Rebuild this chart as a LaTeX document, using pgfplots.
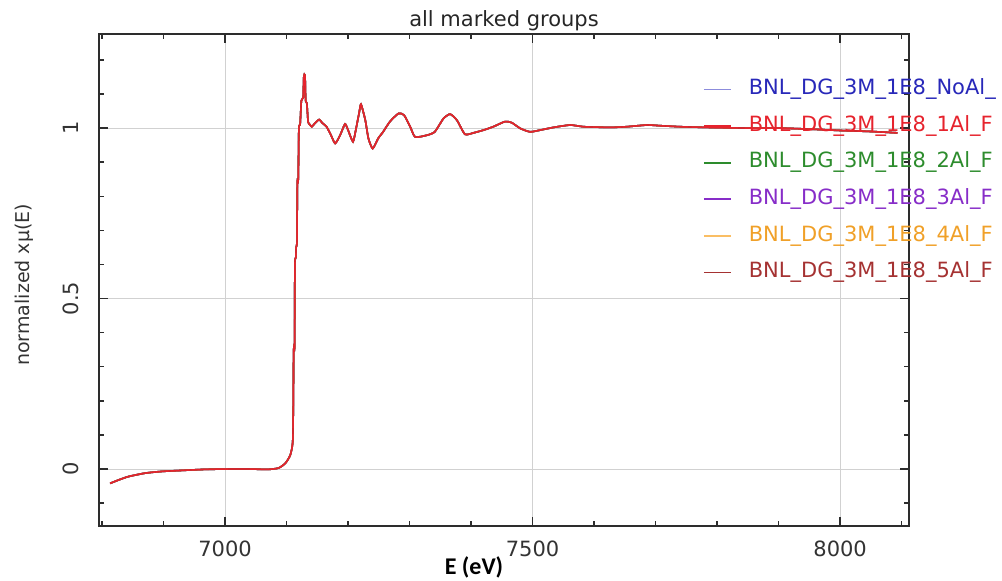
\documentclass[border=0pt]{standalone}
\usepackage{fontspec}
\setmainfont{DejaVu Sans}
\newfontfamily\carlito{Carlito}
\usepackage{pgfplots}
\usepackage{pgfplotstable}
\pgfplotsset{compat=1.18}

\definecolor{cNoL}{RGB}{140,140,220}
\definecolor{cNoT}{RGB}{40,40,185}
\definecolor{cOne}{RGB}{230,35,45}
\definecolor{cTwo}{RGB}{45,140,45}
\definecolor{cThr}{RGB}{135,45,200}
\definecolor{cFouL}{RGB}{250,190,100}
\definecolor{cFouT}{RGB}{240,160,40}
\definecolor{cFiv}{RGB}{165,50,50}
\definecolor{axgray}{RGB}{45,45,45}

\pgfplotstableread{
E mu
6813 -0.042
6827 -0.032
6843 -0.022
6870 -0.012
6897 -0.007
6930 -0.004
6967 -0.001
7005 0.000
7040 0.000
7070 -0.001
7087 0.003
7098 0.017
7106 0.041
7110 0.080
7111 0.200
7111.5 0.350
7113 0.360
7113.5 0.600
7115 0.620
7115.5 0.650
7117 0.670
7117.5 0.840
7119 0.850
7120 1.000
7122 1.010
7124 1.080
7127 1.090
7128 1.150
7130 1.155
7131 1.080
7133 1.073
7135 1.018
7138 1.010
7141 1.004
7146 1.014
7153 1.025
7158 1.015
7165 1.004
7172 0.980
7179 0.955
7187 0.979
7195 1.012
7200 0.994
7208 0.960
7213 0.999
7218 1.045
7221 1.070
7228 1.023
7233 0.970
7240 0.940
7249 0.970
7257 0.989
7268 1.019
7282 1.043
7291 1.038
7301 1.004
7309 0.974
7328 0.979
7341 0.989
7355 1.028
7366 1.041
7377 1.023
7390 0.982
7404 0.986
7420 0.994
7436 1.004
7455 1.019
7466 1.016
7480 0.999
7496 0.989
7512 0.994
7534 1.002
7561 1.009
7583 1.004
7626 1.002
7653 1.004
7686 1.009
7707 1.007
7740 1.004
7783 1.002
7850 1.000
7900 1.000
7950 0.997
8000 0.993
8050 0.990
8093 0.986
}\spectrum

\begin{document}
\begin{tikzpicture}
\begin{axis}[
  at={(49.5pt,27.5pt)}, anchor=south west,
  scale only axis, width=405pt, height=246pt,
  xmin=6795, xmax=8112, ymin=-0.167, ymax=1.276,
  xtick={7000,7500,8000}, ytick={0,0.5,1},
  minor xtick={6800,6900,7100,7200,7300,7400,7600,7700,7800,7900,8100},
  minor ytick={-0.1,0.1,0.2,0.3,0.4,0.6,0.7,0.8,0.9,1.1,1.2},
  tick align=inside, tick pos=both,
  major tick length=4.5pt, minor tick length=2.5pt,
  every tick/.style={axgray, line width=0.7pt},
  axis line style={axgray, line width=1pt},
  grid=major, major grid style={black!18, line width=0.5pt},
  scaled ticks=false,
  /pgf/number format/1000 sep={},
  /pgf/number format/assume math mode=true,
  tick label style={font=\fontsize{10.5}{12}\selectfont, text=black!80},
  xticklabel style={yshift=-4pt},
  yticklabel style={xshift=-6.5pt, rotate=90, anchor=south},
  title={all marked groups},
  title style={at={(axis description cs:0.5,1)}, anchor=base, yshift=-2.5pt, font=\fontsize{10.5}{12}\selectfont, text=black!85},
  xlabel={\carlito\bfseries E (eV)},
  xlabel style={at={(axis description cs:0.463,0)}, anchor=base, yshift=-24.5pt, font=\fontsize{12}{14}\selectfont, text=black},
  ylabel={normalized xμ(E)},
  ylabel style={at={(axis description cs:-0.0926,0.49)}, anchor=center, font=\fontsize{9.5}{11}\selectfont, text=black!80},
  legend style={at={(axis description cs:0.7457,0.908)}, anchor=north west, draw=none, fill=none,
    inner sep=0pt, outer sep=0pt, row sep=8.1pt,
    font=\fontsize{10.5}{12}\selectfont,
    nodes={inner sep=0pt, text height=7.7pt, text depth=2.5pt},
    /tikz/every odd column/.append style={column sep=8.5pt}},
  legend cell align=left,
  legend image code/.code={\draw[#1, line width=0.9pt] (0pt,0pt) -- (13.5pt,0pt);},
]
\addlegendimage{cNoL}
\addlegendentry{\textcolor{cNoT}{BNL\_DG\_3M\_1E8\_NoAl\_}}
\addlegendimage{cOne}
\addlegendentry{\textcolor{cOne}{BNL\_DG\_3M\_1E8\_1Al\_F}}
\addlegendimage{cTwo}
\addlegendentry{\textcolor{cTwo}{BNL\_DG\_3M\_1E8\_2Al\_F}}
\addlegendimage{cThr}
\addlegendentry{\textcolor{cThr}{BNL\_DG\_3M\_1E8\_3Al\_F}}
\addlegendimage{cFouL}
\addlegendentry{\textcolor{cFouT}{BNL\_DG\_3M\_1E8\_4Al\_F}}
\addlegendimage{cFiv}
\addlegendentry{\textcolor{cFiv}{BNL\_DG\_3M\_1E8\_5Al\_F}}

\addplot[forget plot, cNoT, line width=0.8pt, smooth, tension=0.35] table[x=E, y=mu] {\spectrum};
\addplot[forget plot, cTwo, line width=0.8pt, smooth, tension=0.35] table[x=E, y=mu] {\spectrum};
\addplot[forget plot, cThr, line width=0.8pt, smooth, tension=0.35] table[x=E, y=mu] {\spectrum};
\addplot[forget plot, cFouT, line width=0.8pt, smooth, tension=0.35] table[x=E, y=mu] {\spectrum};
\addplot[forget plot, cFiv, line width=0.8pt, smooth, tension=0.35] table[x=E, y=mu] {\spectrum};
\addplot[forget plot, cOne, line width=0.7pt, smooth, tension=0.35] table[x=E, y=mu] {\spectrum};
\end{axis}
\pgfresetboundingbox
\path[use as bounding box] (0,0) rectangle (501pt,290.5pt);
\end{tikzpicture}
\end{document}
